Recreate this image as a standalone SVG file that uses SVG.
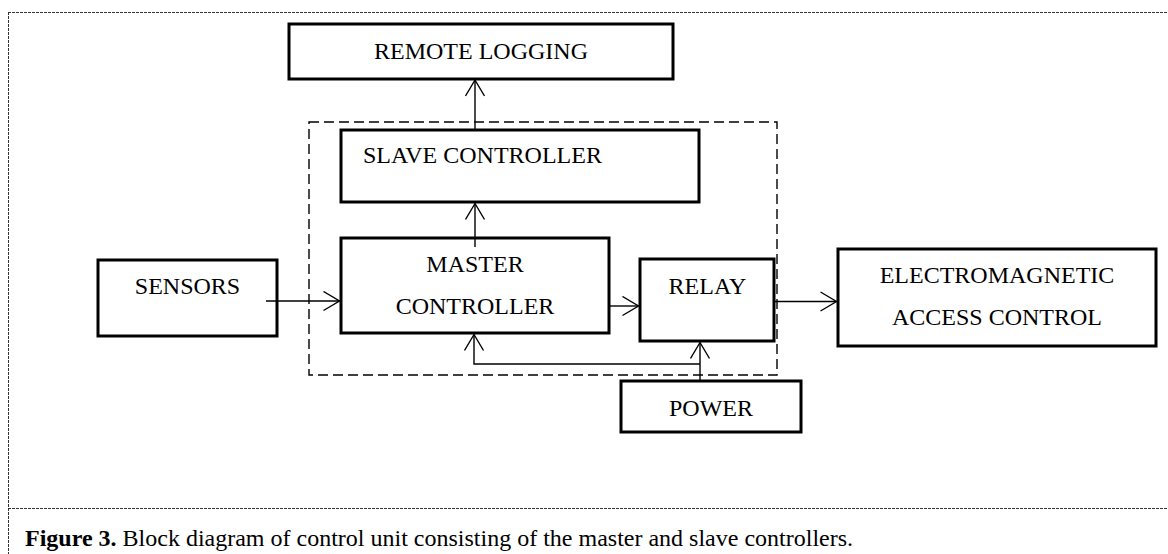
<svg xmlns="http://www.w3.org/2000/svg" width="1168" height="554" viewBox="0 0 1168 554">
<style>
  .box { fill: #fff; stroke: #000; stroke-width: 3; }
  .lbl { font-family: "Liberation Serif", "Times New Roman", serif; font-size: 24px; fill: #000; }
  .mid { text-anchor: middle; }
  .conn { fill: none; stroke: #000; stroke-width: 1.4; }
  .frame { fill: none; stroke: #333; stroke-width: 1; stroke-dasharray: 3 1; }
  .group { fill: none; stroke: #000; stroke-width: 1.4; stroke-dasharray: 10 5; }
</style>
<defs>
  <marker id="arr" markerUnits="userSpaceOnUse" markerWidth="20" markerHeight="22" refX="17" refY="10.5" orient="auto" viewBox="0 0 20 22">
    <path d="M1,1 L17,10.5 L1,20" fill="none" stroke="#000" stroke-width="1.4"/>
  </marker>
</defs>
<rect width="1168" height="554" fill="#fff"/>
<g id="frame">
  <line class="frame" x1="8" y1="12.5" x2="1168" y2="12.5"/>
  <line class="frame" x1="8.5" y1="12" x2="8.5" y2="554"/>
  <line class="frame" x1="8" y1="508.5" x2="1168" y2="508.5"/>
</g>
<g id="control-unit">
  <rect class="group" x="309" y="122" width="468" height="253"/>
</g>
<g id="remote-logging">
  <rect class="box" x="289" y="24" width="384" height="55"/>
  <text class="lbl mid" x="481" y="59">REMOTE LOGGING</text>
</g>
<g id="slave-controller">
  <rect class="box" x="341" y="130" width="358" height="72"/>
  <text class="lbl" x="363" y="163">SLAVE CONTROLLER</text>
</g>
<g id="sensors">
  <rect class="box" x="98" y="260" width="179" height="76"/>
  <text class="lbl mid" x="187.5" y="294">SENSORS</text>
</g>
<g id="master-controller">
  <rect class="box" x="341" y="238" width="268" height="95"/>
  <text class="lbl mid" x="475" y="272">MASTER</text>
  <text class="lbl mid" x="475" y="314">CONTROLLER</text>
</g>
<g id="relay">
  <rect class="box" x="640" y="259" width="134" height="82"/>
  <text class="lbl mid" x="707.5" y="294">RELAY</text>
</g>
<g id="em-access-control">
  <rect class="box" x="838" y="249" width="318" height="97"/>
  <text class="lbl mid" x="997" y="283">ELECTROMAGNETIC</text>
  <text class="lbl mid" x="997" y="325">ACCESS CONTROL</text>
</g>
<g id="power">
  <rect class="box" x="621" y="381" width="180" height="51"/>
  <text class="lbl mid" x="711" y="416">POWER</text>
</g>
<g id="connectors">
  <line class="conn" x1="475" y1="130" x2="475" y2="80" marker-end="url(#arr)"/>
  <line class="conn" x1="475" y1="247" x2="475" y2="203.5" marker-end="url(#arr)"/>
  <line class="conn" x1="266" y1="301" x2="339.5" y2="301" marker-end="url(#arr)"/>
  <line class="conn" x1="609" y1="306" x2="638.5" y2="306" marker-end="url(#arr)"/>
  <line class="conn" x1="775" y1="301.5" x2="836.5" y2="301.5" marker-end="url(#arr)"/>
  <line class="conn" x1="700" y1="381" x2="700" y2="342.5" marker-end="url(#arr)"/>
  <polyline class="conn" points="700,364 474,364 474,334.5" marker-end="url(#arr)"/>
</g>
<g id="caption">
  <text class="lbl" x="25" y="546"><tspan font-weight="bold">Figure 3.</tspan> Block diagram of control unit consisting of the master and slave controllers.</text>
</g>
</svg>
